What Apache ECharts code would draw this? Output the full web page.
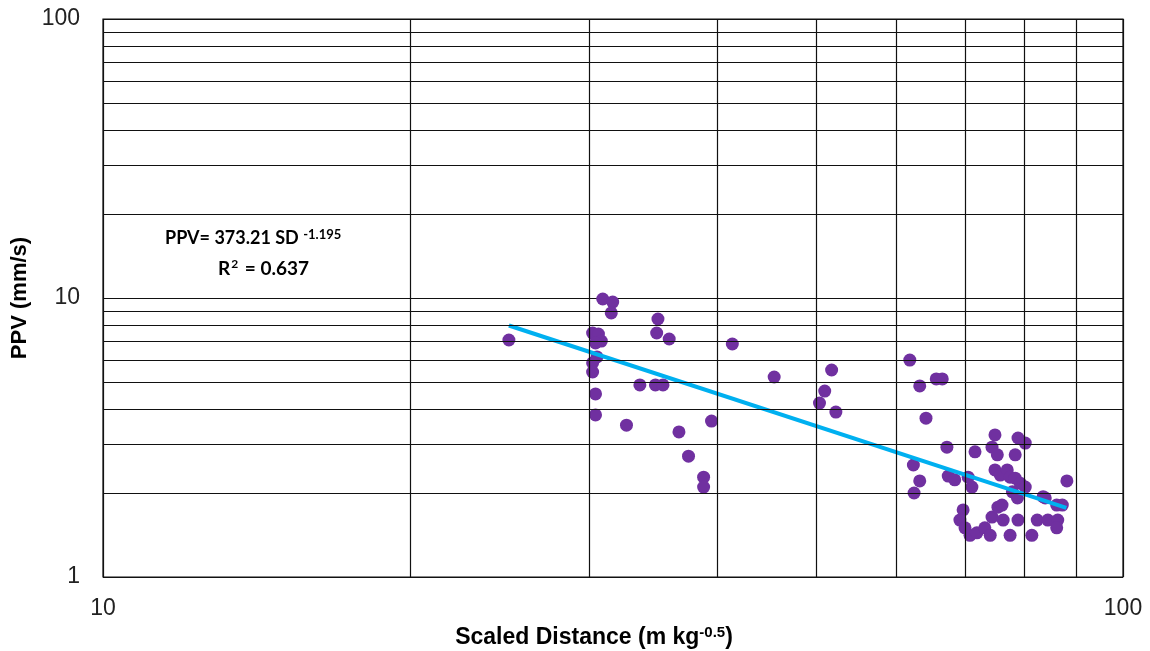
<!DOCTYPE html>
<html lang="en">
<head>
<meta charset="UTF-8">
<title>PPV vs Scaled Distance</title>
<script src="https://cdn.jsdelivr.net/npm/echarts@6/dist/echarts.min.js"></script>
<style>
  * { margin: 0; padding: 0; }
  body { background: #fff; }
  #main { width: 1150px; height: 651px; }
</style>
</head>
<body>
<div id="main"></div>
<script>
// measured points (scaled distance, ppv)
var sdValues = [25.0, 30.9, 31.6, 31.5, 35.0, 34.9, 35.9, 41.4, 30.2, 30.6, 30.8, 30.4, 30.5, 30.2, 30.2, 30.4, 30.4,
  32.6, 33.6, 34.8, 35.4, 36.7, 37.5, 39.5, 38.8, 38.8, 45.5, 51.8, 51.0, 50.4, 52.3, 61.8, 63.2, 65.6, 66.5, 64.1,
  67.2, 62.3, 63.2, 62.4, 71.6, 74.9, 78.9, 80.2, 74.4, 75.3, 78.4, 67.4, 68.4, 70.5, 71.1, 74.9, 75.8, 77.0, 77.5,
  78.4, 79.3, 80.2, 77.9, 78.8, 88.1, 83.9, 86.1, 87.2, 69.7, 69.2, 70.0, 70.8, 71.9, 73.2, 74.1, 74.4, 75.4, 76.1,
  76.3, 78.9, 77.5, 81.4, 82.4, 84.4, 86.3, 86.1, 83.5];
var ppvValues = [7.07, 9.92, 9.67, 8.84, 8.41, 7.49, 7.13, 6.84, 7.49, 7.43, 7.01, 6.90, 6.15, 5.85, 5.43, 4.53, 3.81,
  3.50, 4.88, 4.88, 4.88, 3.31, 2.71, 3.62, 2.28, 2.10, 5.21, 5.52, 4.64, 4.20, 3.90, 5.99, 4.84, 5.13, 5.13, 3.71,
  2.92, 2.52, 2.21, 2.00, 2.81, 3.23, 3.15, 3.02, 2.92, 2.74, 2.74, 2.30, 2.23, 2.28, 2.10, 2.42, 2.32, 2.42, 2.28,
  2.26, 2.17, 2.10, 2.02, 1.92, 2.21, 1.92, 1.81, 1.81, 1.74, 1.60, 1.50, 1.41, 1.44, 1.50, 1.41, 1.64, 1.78, 1.81,
  1.60, 1.60, 1.41, 1.41, 1.60, 1.60, 1.60, 1.50, 1.94];

// power-law fit, straight on log-log: end points
var trendX = [25, 88];
var trendY = [7.97, 1.77];

// minor grid positions
var minorX = [20, 30, 40, 50, 60, 70, 80, 90];
var minorY = [2, 3, 4, 5, 6, 7, 8, 9, 20, 30, 40, 50, 60, 70, 80, 90];

var points = sdValues.map(function (x, i) { return [x, ppvValues[i]]; });
var trend = trendX.map(function (x, i) { return [x, trendY[i]]; });

var gridMarks = minorX.map(function (v) { return { xAxis: v }; })
  .concat(minorY.map(function (v) { return { yAxis: v }; }));

var chart = echarts.init(document.getElementById('main'));
chart.setOption({
  animation: false,
  grid: {
    left: 103, right: 27, top: 19, bottom: 74,
    outerBoundsMode: 'none', containLabel: false,
    show: true, borderColor: '#111', borderWidth: 1.2, backgroundColor: '#fff'
  },
  xAxis: {
    type: 'log', logBase: 10, min: 10, max: 100,
    name: 'Scaled Distance (m kg{sup|-0.5})',
    nameLocation: 'middle', nameGap: 48,
    nameTextStyle: {
      fontFamily: 'Liberation Sans', fontWeight: 'bold', fontSize: 23, color: '#000',
      padding: [0, 38, 0, 0],
      rich: { sup: { fontFamily: 'Liberation Sans', fontWeight: 'bold', fontSize: 15, verticalAlign: 'top', padding: [0, 0, 11, 0] } }
    },
    axisLine: { show: false },
    axisTick: { show: false },
    axisLabel: { fontFamily: 'Liberation Sans', fontSize: 23, color: '#222', margin: 20 },
    splitLine: { show: true, lineStyle: { color: '#111', width: 1.2 } }
  },
  yAxis: {
    type: 'log', logBase: 10, min: 1, max: 100,
    name: 'PPV (mm/s)',
    nameLocation: 'middle', nameGap: 52,
    nameTextStyle: { fontFamily: 'Liberation Sans', fontWeight: 'bold', fontSize: 22, color: '#000' },
    axisLine: { show: false },
    axisTick: { show: false },
    axisLabel: { fontFamily: 'Liberation Sans', fontSize: 23, color: '#222', margin: 23 },
    splitLine: { show: true, lineStyle: { color: '#111', width: 1.2 } }
  },
  graphic: [
    {
      type: 'text', left: 165, top: 228,
      style: {
        text: 'PPV= 373.21 SD {sup|-1.195}',
        font: 'bold 18px Lato', fill: '#000',
        rich: { sup: { font: 'bold 13px Lato', verticalAlign: 'top', padding: [0, 0, 8, 0] } }
      }
    },
    {
      type: 'text', left: 218, top: 258,
      style: {
        text: 'R{sup|2} = 0.637',
        font: 'bold 19px Lato', fill: '#000',
        rich: { sup: { font: 'bold 12px Lato', verticalAlign: 'top', padding: [0, 2, 9, 1] } }
      }
    }
  ],
  series: [
    {
      type: 'line', data: [], silent: true,
      markLine: {
        silent: true, symbol: 'none', animation: false,
        label: { show: false },
        lineStyle: { color: '#111', width: 1.2, type: 'solid' },
        data: gridMarks
      }
    },
    {
      type: 'scatter', data: points, symbolSize: 13, z: 3,
      itemStyle: { color: '#7030A0', opacity: 1 }
    },
    {
      type: 'line', data: trend, showSymbol: false, z: 4,
      lineStyle: { color: '#00B0F0', width: 4 }
    }
  ]
});
</script>
</body>
</html>
